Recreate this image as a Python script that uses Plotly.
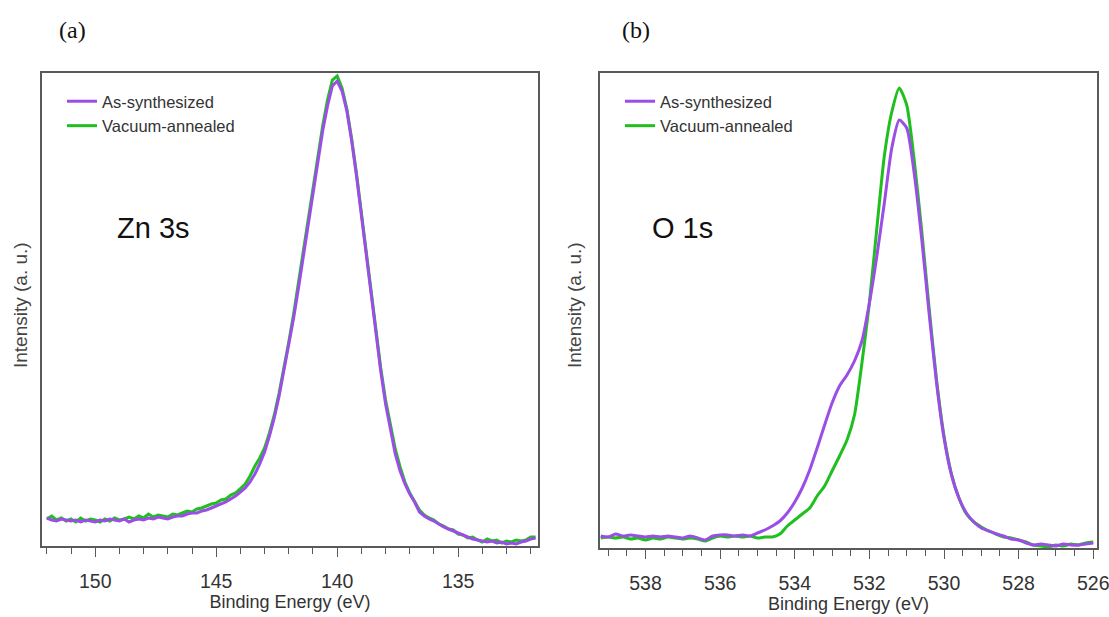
import plotly.graph_objects as go

# ---------------- Data ----------------
# Panel (a): Zn 3s, binding energy (eV) and intensities (a.u.)
zn_energy = [round(152.0 - 0.2 * i, 1) for i in range(102)]
zn_as_synth = [28, 26, 25, 27, 26, 25, 26, 24, 26, 25,
               24, 26, 25, 27, 26, 25, 27, 24, 26, 27,
               26, 28, 27, 29, 28, 27, 29, 30, 30, 32,
               33, 33, 35, 36, 38, 40, 42, 44, 47, 50,
               54, 58, 64, 72, 82, 94, 110, 128, 150, 175,
               200, 228, 258, 290, 322, 355, 385, 415, 440, 460,
               465, 455, 435, 405, 370, 330, 290, 250, 212, 175,
               142, 115, 92, 75, 62, 52, 44, 34, 30, 27,
               25, 22, 19, 17, 15, 13, 11, 9, 7, 6,
               5, 4, 5, 3, 4, 2, 3, 2, 4, 5,
               7, 8]
zn_vac_ann = [27, 30, 26, 28, 25, 27, 24, 28, 25, 27,
              26, 24, 27, 25, 28, 26, 27, 29, 27, 30,
              28, 32, 29, 31, 30, 29, 32, 31, 33, 35,
              34, 37, 38, 40, 42, 43, 46, 47, 51, 53,
              58, 62, 70, 80, 88, 98, 113, 131, 153, 178,
              204, 232, 263, 295, 327, 360, 390, 420, 446, 466,
              470, 458, 437, 407, 372, 332, 292, 252, 214, 178,
              146, 120, 97, 79, 64, 53, 44, 36, 31, 28,
              26, 22, 20, 17, 16, 12, 11, 8, 9, 6,
              4, 7, 5, 6, 3, 5, 4, 6, 5, 6,
              9, 9]

# Panel (b): O 1s
o_energy = [round(539.2 - 0.2 * i, 1) for i in range(67)]
o_as_synth = [12, 11, 14, 12, 13, 12, 11, 12, 11, 12,
              11, 10, 12, 10, 8, 12, 13, 13, 12, 13,
              12, 15, 18, 22, 27, 35, 46, 60, 78, 100,
              123, 145, 162, 173, 187, 207, 245, 292, 345, 400,
              428, 420, 375, 310, 235, 165, 110, 73, 50, 35,
              26, 20, 17, 14, 12, 9, 8, 5, 3, 4,
              3, 2, 4, 3, 3, 4, 5]
o_vac_ann = [10, 11, 10, 11, 9, 10, 8, 10, 9, 11,
             10, 9, 10, 9, 7, 10, 12, 11, 12, 11,
             12, 10, 11, 11, 14, 22, 28, 34, 40, 52,
             62, 77, 92, 108, 133, 185, 245, 320, 392, 436,
             460, 443, 388, 318, 240, 168, 112, 74, 50, 34,
             26, 21, 17, 14, 11, 10, 8, 6, 3, 2,
             1, 3, 2, 4, 3, 5, 6]

series_names = ["As-synthesized", "Vacuum-annealed"]
zn_ticks = [150, 145, 140, 135]
o_ticks = [538, 536, 534, 532, 530, 528, 526]

# ---------------- Style ----------------
PURPLE = "#9a4ee6"
GREEN = "#1fbf1f"
FRAME = "#5a5a5a"
FONT = "Liberation Sans, Arial, sans-serif"
SERIF = "Liberation Serif, Times New Roman, serif"

W, H = 1109, 617


def px_x(x):
    return x / W


def px_y(y):
    return 1 - y / H


fig = go.Figure()

# Panel (a) traces (green first so purple is on top)
fig.add_trace(go.Scatter(x=zn_energy, y=zn_vac_ann, name=series_names[1], mode="lines",
                         line=dict(color=GREEN, width=3), xaxis="x", yaxis="y",
                         legend="legend", legendrank=2))
fig.add_trace(go.Scatter(x=zn_energy, y=zn_as_synth, name=series_names[0], mode="lines",
                         line=dict(color=PURPLE, width=3), xaxis="x", yaxis="y",
                         legend="legend", legendrank=1))
# Panel (b)
fig.add_trace(go.Scatter(x=o_energy, y=o_vac_ann, name=series_names[1], mode="lines",
                         line=dict(color=GREEN, width=3, shape="spline", smoothing=0.6),
                         xaxis="x2", yaxis="y2", legend="legend2", legendrank=2))
fig.add_trace(go.Scatter(x=o_energy, y=o_as_synth, name=series_names[0], mode="lines",
                         line=dict(color=PURPLE, width=3, shape="spline", smoothing=0.6),
                         xaxis="x2", yaxis="y2", legend="legend2", legendrank=1))

xcommon = dict(showline=True, mirror=True, linecolor=FRAME, linewidth=1.5,
               ticks="outside", ticklen=9, tickwidth=1.3, tickcolor=FRAME,
               showgrid=False, zeroline=False, ticklabelstandoff=8,
               ticklabeloverflow="allow",
               tickfont=dict(family=FONT, size=19.5, color="#333"),
               title=dict(text="Binding Energy (eV)", font=dict(family=FONT, size=18, color="#333"),
                          standoff=2))
ycommon = dict(showline=True, mirror=True, linecolor=FRAME, linewidth=1.5,
               ticks="", showticklabels=False, showgrid=False, zeroline=False)

minor_a = dict(dtick=1, tick0=0, ticks="outside", ticklen=6, tickcolor=FRAME, tickwidth=1.3)
minor_b = dict(dtick=0.5, tick0=0, ticks="outside", ticklen=6, tickcolor=FRAME, tickwidth=1.3)

legend_style = dict(xanchor="left", yanchor="top", bgcolor="rgba(0,0,0,0)",
                    font=dict(family=FONT, size=16.5, color="#333"),
                    tracegroupgap=0, itemwidth=30)

fig.update_layout(
    width=W, height=H,
    margin=dict(l=0, r=0, t=0, b=0, autoexpand=False),
    paper_bgcolor="white", plot_bgcolor="white",
    xaxis=dict(**xcommon, domain=[px_x(42), px_x(538)], range=[152.2, 131.7],
               tickvals=zn_ticks, minor=minor_a, anchor="y"),
    yaxis=dict(**ycommon, domain=[px_y(546), px_y(73)], range=[0, 473], anchor="x"),
    xaxis2=dict(**xcommon, domain=[px_x(600), px_x(1097)], range=[539.22, 525.9],
                tickvals=o_ticks, minor=minor_b, anchor="y2"),
    yaxis2=dict(**ycommon, domain=[px_y(548), px_y(73)], range=[0, 475], anchor="x2"),
    legend=dict(**legend_style, x=px_x(62), y=px_y(84)),
    legend2=dict(**legend_style, x=px_x(620), y=px_y(84)),
    showlegend=True,
)

annotations = [
    dict(text="(a)", x=px_x(72), y=px_y(30), font=dict(family=SERIF, size=24, color="#111")),
    dict(text="(b)", x=px_x(636), y=px_y(30), font=dict(family=SERIF, size=24, color="#111")),
    dict(text="Zn 3s", x=px_x(153), y=px_y(228), font=dict(family=FONT, size=29, color="#111")),
    dict(text="O 1s", x=px_x(682), y=px_y(228), font=dict(family=FONT, size=29, color="#111")),
    dict(text="Intensity (a. u.)", x=px_x(20), y=px_y(305), textangle=-90,
         font=dict(family=FONT, size=19, color="#444")),
    dict(text="Intensity (a. u.)", x=px_x(574), y=px_y(305), textangle=-90,
         font=dict(family=FONT, size=19, color="#444")),
]
for a in annotations:
    a.update(xref="paper", yref="paper", showarrow=False, xanchor="center", yanchor="middle")
fig.update_layout(annotations=annotations)

fig.write_html("out.html", config={"displayModeBar": False},
               post_script="document.body.style.margin='0';document.body.style.overflow='hidden';")
